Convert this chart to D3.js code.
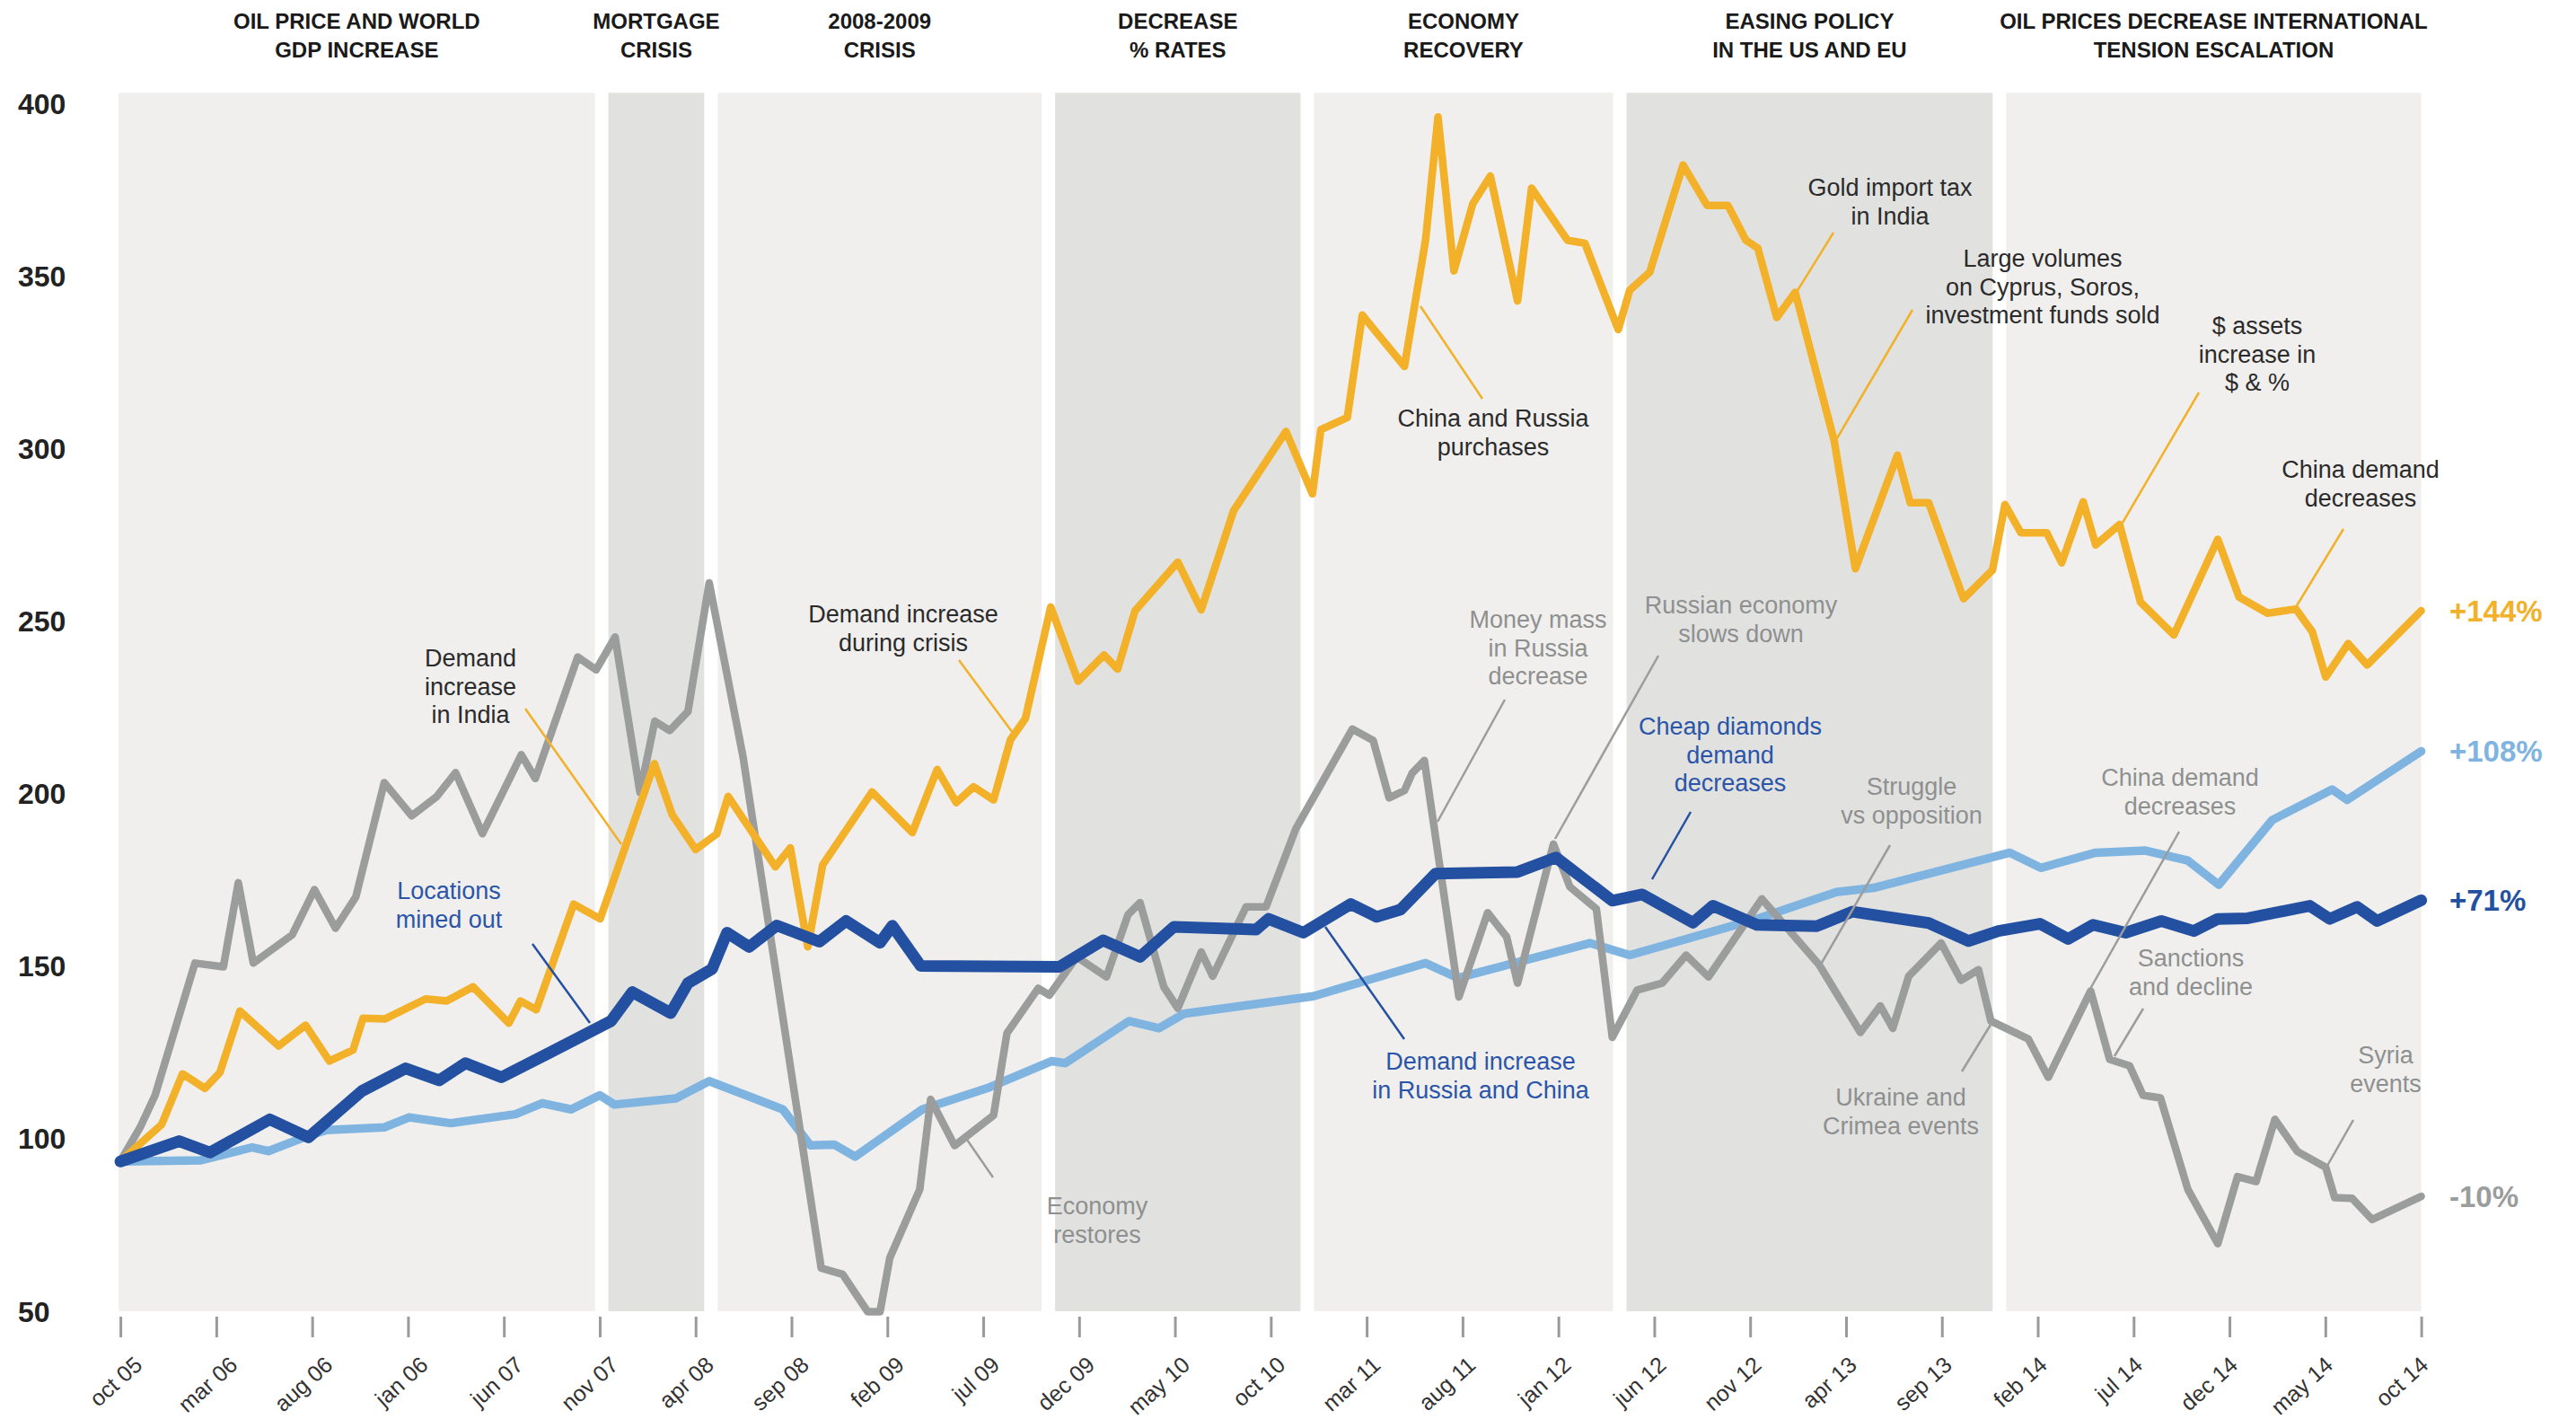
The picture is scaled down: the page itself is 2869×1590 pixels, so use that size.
<!DOCTYPE html>
<html><head><meta charset="utf-8">
<script src="https://cdn.jsdelivr.net/npm/d3@7"></script>
<style>html,body{margin:0;padding:0;background:#fff;} svg{display:block;}</style>
</head><body>
<svg id="chart" width="2869" height="1590"></svg>
<script>
// ---------------- DATA ----------------
// x values are months elapsed since oct 05 (the axis spans 120 months)
const tickLabels = ["oct 05","mar 06","aug 06","jan 06","jun 07","nov 07","apr 08","sep 08","feb 09","jul 09","dec 09","may 10","oct 10","mar 11","aug 11","jan 12","jun 12","nov 12","apr 13","sep 13","feb 14","jul 14","dec 14","may 14","oct 14"];
const tickMonths = d3.range(0, 121, 5);
const yTicks = [50, 100, 150, 200, 250, 300, 350, 400];

const periodTitles = [
  ["OIL PRICE AND WORLD", "GDP INCREASE"],
  ["MORTGAGE", "CRISIS"],
  ["2008-2009", "CRISIS"],
  ["DECREASE", "% RATES"],
  ["ECONOMY", "RECOVERY"],
  ["EASING POLICY", "IN THE US AND EU"],
  ["OIL PRICES DECREASE INTERNATIONAL", "TENSION ESCALATION"]
];
const periodBounds = [0, 25.1, 30.8, 48.4, 61.9, 78.2, 98.0, 120];
const periodShade  = ["light", "dark", "light", "dark", "light", "dark", "light"];

const goldSeries = [[0,93.5],[2.15,104.1],[3.24,118.8],[4.41,114.6],[5.19,119.2],[6.23,137.0],[8.25,126.9],[9.66,132.9],[10.9,122.5],[12.13,125.7],[12.65,134.9],[13.79,134.7],[15.92,140.5],[17.01,139.9],[18.39,144.0],[20.26,133.5],[20.86,139.9],[21.69,137.4],[23.64,168.0],[25.02,163.7],[27.85,208.7],[28.78,193.9],[30.0,183.8],[31.1,188.3],[31.7,199.2],[34.16,178.8],[34.94,184.3],[35.85,155.6],[36.63,179.4],[39.2,200.5],[41.3,188.7],[42.6,207.0],[43.59,197.4],[44.5,202.0],[45.54,198.2],[46.42,215.6],[47.2,221.8],[48.52,254.1],[49.95,232.6],[51.3,240.2],[52.01,236.1],[52.92,253.0],[55.15,267.1],[56.37,253.3],[58.06,282.0],[60.79,305.0],[62.17,286.9],[62.61,305.5],[63.99,309.0],[64.77,338.7],[66.97,323.8],[68.07,360.4],[68.72,396.1],[69.55,351.5],[70.53,370.9],[71.45,379.0],[72.87,342.8],[73.6,375.5],[75.47,360.4],[76.38,359.5],[78.12,334.5],[78.72,345.9],[79.76,351.1],[81.5,382.2],[82.75,370.5],[83.84,370.5],[84.78,360.4],[85.4,358.1],[86.39,338.0],[87.35,345.3],[89.38,302.4],[90.49,265.2],[92.68,298.1],[93.35,284.3],[94.31,284.3],[96.13,256.5],[97.64,264.8],[98.29,283.8],[99.12,275.6],[100.47,275.6],[101.25,266.9],[102.37,284.6],[103.02,272.1],[104.27,278.0],[105.36,255.5],[107.1,246.0],[109.39,273.7],[110.5,257.0],[111.98,252.3],[113.47,253.5],[114.32,246.9],[115.02,233.8],[116.19,243.5],[117.18,237.3],[120,253.0]];

const lightBlueSeries = [[0,93.4],[4.15,93.7],[6.88,97.5],[7.71,96.4],[9.86,101.0],[10.77,102.5],[13.76,103.3],[15.06,106.2],[17.22,104.5],[20.6,107.1],[22.0,110.3],[23.51,108.5],[25.0,112.6],[25.77,109.9],[28.97,111.7],[30.71,116.7],[34.55,108.5],[35.98,98.1],[37.23,98.3],[38.32,94.8],[41.82,108.5],[45.33,114.9],[48.58,122.5],[49.28,121.9],[52.6,134.1],[54.16,132.0],[55.46,136.2],[62.22,141.3],[68.07,150.9],[69.76,146.6],[76.64,156.7],[78.72,153.2],[85.35,163.7],[89.5,171.5],[91.45,172.7],[98.55,182.9],[100.16,178.5],[103.02,182.9],[105.62,183.5],[107.83,180.6],[109.44,173.6],[112.24,192.4],[115.36,201.2],[116.14,198.2],[120,212.3]];

const darkBlueSeries = [[0,93.4],[3.06,99.3],[4.67,96.0],[7.79,105.6],[9.81,100.4],[12.59,113.8],[14.88,120.4],[16.62,116.9],[18.0,121.9],[19.87,117.8],[22.34,124.8],[25.59,134.1],[26.7,142.5],[28.7,136.4],[29.6,145.1],[30.86,149.2],[31.64,159.7],[32.79,155.6],[34.24,161.8],[36.45,157.1],[37.85,163.1],[39.62,156.8],[40.26,161.7],[41.74,150.1],[48.97,149.8],[51.25,157.5],[53.18,152.7],[54.94,161.4],[59.23,160.6],[59.88,163.7],[61.7,159.7],[64.17,168.0],[65.52,164.3],[66.77,166.4],[68.59,176.8],[72.87,177.3],[74.87,181.5],[77.81,169.0],[79.37,170.8],[82.02,162.6],[83.06,167.5],[85.35,162.0],[88.47,161.6],[90.34,165.8],[94.31,162.5],[96.39,157.3],[97.95,160.2],[100.11,162.3],[101.59,157.9],[102.89,162.0],[104.58,159.7],[106.45,163.1],[108.14,160.2],[109.39,163.7],[110.95,163.9],[114.19,167.5],[115.23,163.7],[116.66,167.2],[117.7,163.1],[120,169.1]];

const greySeries = [[0,93.5],[1.03,103.3],[1.81,112.6],[3.89,150.9],[5.37,149.8],[6.15,174.2],[6.93,150.9],[8.96,159.1],[10.12,172.2],[11.22,161.0],[12.28,170.1],[13.76,203.2],[15.19,193.6],[16.49,199.1],[17.48,206.1],[18.88,188.4],[20.91,211.3],[21.64,204.4],[23.85,239.6],[24.81,235.9],[25.8,245.4],[27.1,200.3],[27.87,221.0],[28.65,218.3],[29.6,223.8],[30.71,261.1],[32.47,210.8],[36.55,62.5],[37.67,60.7],[38.97,49.9],[39.62,49.9],[40.13,65.5],[41.69,85.3],[42.26,111.4],[43.51,98.0],[45.54,106.8],[46.24,130.6],[47.87,143.6],[48.45,141.6],[49.88,152.7],[51.43,146.9],[52.55,164.9],[53.18,168.4],[54.42,144.0],[55.15,137.8],[56.37,154.1],[56.97,147.1],[58.71,167.2],[59.75,167.2],[61.31,189.9],[64.25,218.7],[65.34,215.4],[66.17,198.8],[66.97,200.9],[67.37,205.9],[68.01,209.6],[69.81,141.1],[71.31,165.5],[72.3,158.5],[72.87,145.1],[74.74,185.4],[75.6,173.0],[76.98,166.6],[77.81,129.4],[79.11,143.1],[80.41,145.1],[81.66,153.2],[82.83,146.9],[85.61,169.5],[88.6,150.4],[90.75,130.8],[91.79,138.5],[92.44,132.0],[93.27,147.1],[94.96,156.7],[96.0,145.9],[96.91,149.0],[97.56,134.1],[99.51,128.9],[100.55,117.8],[102.76,142.8],[103.75,123.0],[104.79,121.1],[105.49,112.6],[106.4,111.8],[107.83,85.3],[109.39,69.6],[110.42,89.0],[111.39,87.6],[112.37,105.6],[113.54,96.3],[115.02,91.7],[115.49,82.9],[116.4,82.7],[117.44,76.6],[120,83.3]];

const endLabels = { gold: "+144%", lightBlue: "+108%", darkBlue: "+71%", grey: "-10%" };

// annotation texts (layout given separately below)
const annotations = [
  { kind: "gold", lines: ["Demand", "increase", "in India"], tx: 524, ty: 742, leader: [[585,789],[692,940]] },
  { kind: "gold", lines: ["Demand increase", "during crisis"], tx: 1006, ty: 693, leader: [[1068,735],[1128,816]] },
  { kind: "gold", lines: ["China and Russia", "purchases"], tx: 1663, ty: 475, leader: [[1582,341],[1651,444]] },
  { kind: "gold", lines: ["Gold import tax", "in India"], tx: 2105, ty: 218, leader: [[2042,259],[2001,325]] },
  { kind: "gold", lines: ["Large volumes", "on Cyprus, Soros,", "investment funds sold"], tx: 2275, ty: 297, leader: [[2130,345],[2046,488]] },
  { kind: "gold", lines: ["$ assets", "increase in", "$ & %"], tx: 2514, ty: 372, leader: [[2449,437],[2364,582]] },
  { kind: "gold", lines: ["China demand", "decreases"], tx: 2629, ty: 532, leader: [[2610,589],[2557,676]] },
  { kind: "grey", lines: ["Economy", "restores"], tx: 1222, ty: 1352, leader: [[1106,1311],[1077,1269]] },
  { kind: "grey", lines: ["Money mass", "in Russia", "decrease"], tx: 1713, ty: 699, leader: [[1676,779],[1601,915]] },
  { kind: "grey", lines: ["Russian economy", "slows down"], tx: 1939, ty: 683, leader: [[1847,730],[1732,934]] },
  { kind: "grey", lines: ["Struggle", "vs opposition"], tx: 2129, ty: 885, leader: [[2105,941],[2026,1077]] },
  { kind: "grey", lines: ["Ukraine and", "Crimea events"], tx: 2117, ty: 1231, leader: [[2185,1193],[2217,1141]] },
  { kind: "grey", lines: ["China demand", "decreases"], tx: 2428, ty: 875, leader: [[2427,926],[2328,1101]] },
  { kind: "grey", lines: ["Sanctions", "and decline"], tx: 2440, ty: 1076, leader: [[2387,1123],[2355,1176]] },
  { kind: "grey", lines: ["Syria", "events"], tx: 2657, ty: 1184, leader: [[2621,1247],[2592,1298]] },
  { kind: "blue", lines: ["Locations", "mined out"], tx: 500, ty: 1001, leader: [[593,1051],[657,1139]] },
  { kind: "blue", lines: ["Demand increase", "in Russia and China"], tx: 1649, ty: 1191, leader: [[1564,1157],[1476,1032]] },
  { kind: "blue", lines: ["Cheap diamonds", "demand", "decreases"], tx: 1927, ty: 818, leader: [[1883,904],[1840,979]] }
];

// ---------------- STYLE ----------------
const C = {
  gold: "#f2b129", lightBlue: "#7fb4e1", darkBlue: "#2350a1", grey: "#9b9d9d",
  bandLight: "#f0efed", bandDark: "#e1e1e0",
  text: "#2b2b2b", greyText: "#8e9090", blueText: "#2a55a8"
};
const FONT = "'Liberation Sans', Arial, sans-serif";

const svg = d3.select("#chart");
const x = d3.scaleLinear().domain([0, 120]).range([134.1, 2696.6]);
const y = d3.scaleLinear().domain([50, 400]).range([1460, 115.3]);
const xLabel = d3.scaleLinear().domain([0, 120]).range([160, 2706]);

// bands
const bandTop = y(400) - 12, bandBottom = y(50);
const gap = 7.5;
periodTitles.forEach((t, i) => {
  const x0 = x(periodBounds[i]) + (i === 0 ? -2 : gap);
  const x1 = x(periodBounds[i + 1]) - (i === periodTitles.length - 1 ? 0 : gap);
  svg.append("rect").attr("x", x0).attr("y", bandTop).attr("width", x1 - x0).attr("height", bandBottom - bandTop)
    .attr("fill", periodShade[i] === "light" ? C.bandLight : C.bandDark);
  const cx = (x0 + x1) / 2;
  const tt = svg.append("text").attr("text-anchor", "middle").attr("font-family", FONT)
    .attr("font-weight", "bold").attr("font-size", 24).attr("fill", "#1a1a1a");
  t.forEach((line, j) => tt.append("tspan").attr("x", cx).attr("y", 32 + j * 32).text(line));
});

// y axis labels
svg.append("g").selectAll("text").data(yTicks).join("text")
  .attr("x", 20).attr("y", d => y(d)).attr("dy", "0.36em")
  .attr("font-family", FONT).attr("font-weight", "bold").attr("font-size", 32).attr("fill", "#222")
  .text(d => d);

// x ticks
const xAxis = d3.axisBottom(x).tickValues(tickMonths).tickSize(23).tickFormat("");
const gx = svg.append("g").attr("transform", `translate(0,${bandBottom + 6})`).call(xAxis);
gx.select(".domain").remove();
gx.selectAll(".tick line").attr("stroke", "#9a9a9a").attr("stroke-width", 3);

svg.append("g").selectAll("text").data(tickMonths).join("text")
  .attr("transform", (d) => `translate(${xLabel(d)},1522) rotate(-42)`)
  .attr("text-anchor", "end").attr("font-family", FONT).attr("font-size", 25).attr("fill", "#333")
  .text((d, i) => tickLabels[i]);

// lines
const line = d3.line().x(d => x(d[0])).y(d => y(d[1]));
const series = [
  { key: "lightBlue", data: lightBlueSeries, w: 9.5 },
  { key: "grey", data: greySeries, w: 8.5 },
  { key: "gold", data: goldSeries, w: 8.5 },
  { key: "darkBlue", data: darkBlueSeries, w: 13 }
];
series.forEach(s => {
  svg.append("path").datum(s.data).attr("d", line).attr("fill", "none")
    .attr("stroke", C[s.key]).attr("stroke-width", s.w)
    .attr("stroke-linejoin", "round").attr("stroke-linecap", "round");
});

// end labels
series.forEach(s => {
  const last = s.data[s.data.length - 1];
  svg.append("text").attr("x", 2728).attr("y", y(last[1])).attr("dy", "0.36em")
    .attr("font-family", FONT).attr("font-weight", "bold").attr("font-size", 33)
    .attr("fill", C[s.key]).text(endLabels[s.key]);
});

// annotations
const leaderColor = { gold: C.gold, grey: C.grey, blue: C.darkBlue };
const textColor = { gold: C.text, grey: C.greyText, blue: C.blueText };
annotations.forEach(a => {
  svg.append("line").attr("x1", a.leader[0][0]).attr("y1", a.leader[0][1])
    .attr("x2", a.leader[1][0]).attr("y2", a.leader[1][1])
    .attr("stroke", leaderColor[a.kind]).attr("stroke-width", 2.5);
  const t = svg.append("text").attr("text-anchor", "middle").attr("font-family", FONT)
    .attr("font-size", 27).attr("fill", textColor[a.kind]);
  a.lines.forEach((l, j) => t.append("tspan").attr("x", a.tx).attr("y", a.ty + j * 31.5).text(l));
});
</script>
</body></html>
